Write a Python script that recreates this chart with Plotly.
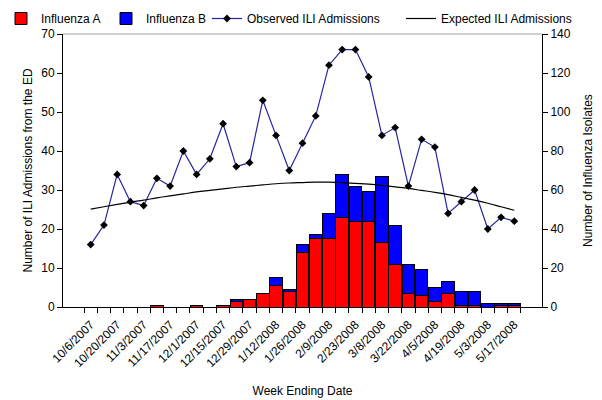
import plotly.graph_objects as go

weeks = ["10/6/2007", "10/13/2007", "10/20/2007", "10/27/2007", "11/3/2007", "11/10/2007",
         "11/17/2007", "11/24/2007", "12/1/2007", "12/8/2007", "12/15/2007", "12/22/2007",
         "12/29/2007", "1/5/2008", "1/12/2008", "1/19/2008", "1/26/2008", "2/2/2008",
         "2/9/2008", "2/16/2008", "2/23/2008", "3/1/2008", "3/8/2008", "3/15/2008",
         "3/22/2008", "3/29/2008", "4/5/2008", "4/12/2008", "4/19/2008", "4/26/2008",
         "5/3/2008", "5/10/2008", "5/17/2008"]

flu_a = [0, 0, 0, 0, 0, 1, 0, 0, 1, 0, 1, 3, 4, 7, 11, 8, 28, 35, 35, 46, 44, 44,
         33, 22, 7, 6, 3, 7, 1, 1, 0, 1, 1]
flu_b = [0, 0, 0, 0, 0, 0, 0, 0, 0, 0, 0, 1, 0, 0, 4, 1, 4, 2, 13, 22, 18, 15,
         34, 20, 15, 13, 7, 6, 7, 7, 2, 1, 1]
observed = [16, 21, 34, 27, 26, 33, 31, 40, 34, 38, 47, 36, 37, 53, 44, 35, 42,
            49, 62, 66, 66, 59, 44, 46, 31, 43, 41, 24, 27, 30, 20, 23, 22]
expected = [25.1, 25.7, 26.3, 26.9, 27.4, 28.0, 28.5, 29.0, 29.5, 29.9, 30.3, 30.7,
            31.0, 31.3, 31.6, 31.8, 31.9, 32.0, 32.0, 31.9, 31.7, 31.5, 31.2, 30.8,
            30.4, 29.9, 29.4, 28.8, 28.1, 27.4, 26.6, 25.7, 24.8]

tick_text = [w if i % 2 == 0 else "" for i, w in enumerate(weeks)]

FONT = "Liberation Sans, Arial, sans-serif"

# figure size = visible window minus the 8px page margin
W, H = 594, 392
ML, MR, MT, MB = 55, 60, 26, 93
PW, PH = W - ML - MR, H - MT - MB

fig = go.Figure()
fig.add_trace(go.Bar(x=weeks, y=flu_a, name="Influenza A", yaxis="y", legend="legend",
                     marker=dict(color="#FF0000", line=dict(color="#000000", width=1))))
fig.add_trace(go.Bar(x=weeks, y=flu_b, name="Influenza B", yaxis="y", legend="legend2",
                     marker=dict(color="#0000FF", line=dict(color="#000000", width=1))))
fig.add_trace(go.Scatter(x=weeks, y=observed, name="Observed ILI Admissions", yaxis="y2",
                         legend="legend3", mode="lines+markers",
                         line=dict(color="#2424A0", width=1.2),
                         marker=dict(symbol="diamond", size=6, color="#000000")))
fig.add_trace(go.Scatter(x=weeks, y=expected, name="Expected ILI Admissions", yaxis="y2",
                         legend="legend4", mode="lines",
                         line=dict(color="#000000", width=1.2, shape="spline")))


def leg(left_px):
    return dict(orientation="h", x=(left_px - ML) / PW, xanchor="left", xref="paper",
                y=1 + (MT + 4) / PH, yanchor="top", yref="paper",
                font=dict(size=12), itemwidth=30, bgcolor="rgba(0,0,0,0)")


fig.update_layout(
    width=W, height=H,
    margin=dict(l=ML, r=MR, t=MT, b=MB, autoexpand=False),
    paper_bgcolor="white", plot_bgcolor="white",
    font=dict(family=FONT, size=12, color="#000000"),
    barmode="stack", bargap=0.06,
    showlegend=True,
    legend=leg(-7), legend2=leg(98), legend3=leg(199), legend4=leg(393),
    xaxis=dict(type="category", tickmode="array", tickvals=weeks, ticktext=tick_text,
               tickangle=-45, tickson="boundaries", ticks="outside", ticklen=5,
               ticklabelstandoff=5,
               tickcolor="#000000", showline=True, linecolor="#000000", linewidth=1,
               showgrid=False, zeroline=False,
               title=dict(text="Week Ending Date", font=dict(size=12), standoff=17),
               tickfont=dict(size=12)),
    yaxis=dict(side="right", range=[0, 140], dtick=20, ticks="outside", ticklen=5,
               tickcolor="#000000", showline=True, linecolor="#000000", linewidth=1,
               showgrid=False, zeroline=False, tickfont=dict(size=12),
               title=dict(text="Number of Influenza Isolates", font=dict(size=12), standoff=13)),
    yaxis2=dict(side="left", overlaying="y", range=[0, 70], dtick=10, ticks="outside",
                ticklen=5, tickcolor="#000000", showline=True, linecolor="#000000",
                linewidth=1, showgrid=False, zeroline=False, tickfont=dict(size=12),
                title=dict(text="Number of ILI Admissions from the ED", font=dict(size=12),
                           standoff=6)),
    shapes=[dict(type="line", xref="paper", yref="paper", x0=0, x1=1, y0=1, y1=1,
                 line=dict(color="#A0A0A0", width=1))],
)

fig.write_html("out.html")
